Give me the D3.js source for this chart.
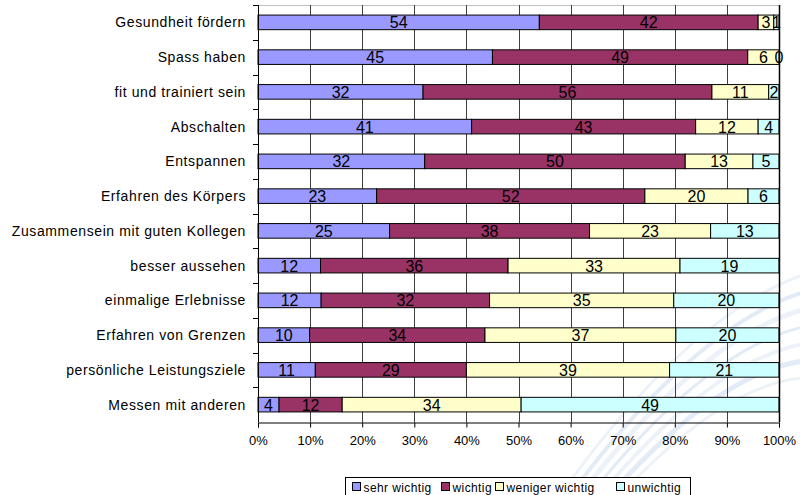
<!DOCTYPE html>
<html>
<head>
<meta charset="utf-8">
<script src="https://d3js.org/d3.v7.min.js"></script>
<style>
  body { margin:0; background:#fff; }
  svg { display:block; font-family:"Liberation Sans", Arial, sans-serif; }
</style>
</head>
<body>
<svg id="chart" width="800" height="495"></svg>
<script>
// categories from top to bottom
const categories = [
  "Gesundheit fördern", "Spass haben", "fit und trainiert sein", "Abschalten",
  "Entspannen", "Erfahren des Körpers", "Zusammensein mit guten Kollegen",
  "besser aussehen", "einmalige Erlebnisse", "Erfahren von Grenzen",
  "persönliche Leistungsziele", "Messen mit anderen"
];
const seriesNames = ["sehr wichtig", "wichtig", "weniger wichtig", "unwichtig"];
const sehrWichtig    = [54, 45, 32, 41, 32, 23, 25, 12, 12, 10, 11, 4];
const wichtig        = [42, 49, 56, 43, 50, 52, 38, 36, 32, 34, 29, 12];
const wenigerWichtig = [3, 6, 11, 12, 13, 20, 23, 33, 35, 37, 39, 34];
const unwichtig      = [1, 0, 2, 4, 5, 6, 13, 19, 20, 20, 21, 49];
const xTicks = [0, 0.1, 0.2, 0.3, 0.4, 0.5, 0.6, 0.7, 0.8, 0.9, 1];
const colors = ["#9999FF", "#993366", "#FFFFCC", "#CCFFFF"];

const svg = d3.select('#chart');
const margin = {left: 258, right: 21, top: 5, bottom: 73};
const W = 800, H = 495;

// faint decorative swoosh in the lower right
const deco = svg.append('g').attr('fill', 'none');
for (let i = 0; i < 7; i++) {
  deco.append('path')
    .attr('d', `M ${560 + i * 10} ${495} Q ${700 + i * 6} ${300 + i * 12} ${820} ${270 + i * 18}`)
    .attr('stroke', i % 2 ? '#e3ecf6' : '#ecf2f8')
    .attr('stroke-width', 3 + (i % 3));
}

const rows = categories.map((c, i) => {
  const vals = [sehrWichtig[i], wichtig[i], wenigerWichtig[i], unwichtig[i]];
  const total = d3.sum(vals);
  let acc = 0;
  return {cat: c, segs: vals.map((v, k) => {
    const s = {k, v, x0: acc / total, x1: (acc + v) / total};
    acc += v;
    return s;
  })};
});

const x = d3.scaleLinear().domain([0, 1]).range([margin.left, W - margin.right]);
const y = d3.scaleBand().domain(categories).range([margin.top, H - margin.bottom]).paddingInner(0.58).paddingOuter(0.29);
const yOuter = d3.scaleBand().domain(categories).range([margin.top, H - margin.bottom]);

// top border
svg.append('line').attr('x1', x(0)).attr('x2', x(1)).attr('y1', margin.top + 0.5).attr('y2', margin.top + 0.5)
  .attr('stroke', '#c0c0c0');

// vertical gridlines
svg.append('g').selectAll('line').data(xTicks.slice(1, -1)).join('line')
  .attr('x1', d => Math.round(x(d)) + 0.5).attr('x2', d => Math.round(x(d)) + 0.5)
  .attr('y1', margin.top).attr('y2', H - margin.bottom)
  .attr('stroke', '#404040').attr('stroke-width', 1);

// bars
const g = svg.append('g');
rows.forEach(r => {
  const row = g.append('g');
  row.selectAll('rect').data(r.segs).join('rect')
    .attr('x', d => x(d.x0)).attr('width', d => x(d.x1) - x(d.x0))
    .attr('y', y(r.cat)).attr('height', y.bandwidth())
    .attr('fill', d => colors[d.k]).attr('stroke', '#000').attr('stroke-width', 1);
  row.selectAll('text').data(r.segs).join('text')
    .attr('x', d => (x(d.x0) + x(d.x1)) / 2)
    .attr('y', y(r.cat) + y.bandwidth() / 2 + 6)
    .attr('text-anchor', 'middle').attr('font-size', 16).attr('fill', '#000')
    .text(d => d.v);
});

// right border
svg.append('line').attr('x1', x(1) + 0.5).attr('x2', x(1) + 0.5)
  .attr('y1', margin.top).attr('y2', H - margin.bottom).attr('stroke', '#000').attr('stroke-width', 1.5);

// y axis
const yAxis = svg.append('g').attr('transform', `translate(${x(0)},0)`);
yAxis.append('line').attr('x1', 0.5).attr('x2', 0.5).attr('y1', margin.top).attr('y2', H - margin.bottom).attr('stroke', '#000');
yAxis.selectAll('.tk').data(categories).join('line').attr('class', 'tk')
  .attr('x1', -5).attr('x2', 0)
  .attr('y1', d => Math.round(yOuter(d)) + 0.5).attr('y2', d => Math.round(yOuter(d)) + 0.5)
  .attr('stroke', '#000');
yAxis.selectAll('text').data(categories).join('text')
  .attr('x', -12).attr('y', d => yOuter(d) + yOuter.bandwidth() / 2 + 5)
  .attr('text-anchor', 'end').attr('font-size', 14).attr('letter-spacing', 0.6).attr('fill', '#000')
  .text(d => d);

// x axis
const xAxis = d3.axisBottom(x).tickValues(xTicks).tickFormat(d3.format('.0%')).tickSizeOuter(0).tickSize(5);
const xg = svg.append('g').attr('transform', `translate(0,${H - margin.bottom + 0.5})`).call(xAxis);
xg.select('.domain').attr('stroke', '#000');
xg.selectAll('text').attr('font-size', 13).attr('dy', '1.15em').attr('fill', '#000')
  .attr('font-family', '"Liberation Sans", Arial, sans-serif');

// legend
const lg = svg.append('g').attr('transform', 'translate(345.5,477.5)');
lg.append('rect').attr('width', 345).attr('height', 22).attr('fill', '#fff').attr('stroke', '#000');
const legendX = [7, 96, 150, 271];
seriesNames.forEach((s, i) => {
  lg.append('rect').attr('x', legendX[i]).attr('y', 5).attr('width', 8).attr('height', 8)
    .attr('fill', colors[i]).attr('stroke', '#000');
  lg.append('text').attr('x', legendX[i] + 11).attr('y', 14).attr('font-size', 12).attr('letter-spacing', 0.4)
    .attr('fill', '#000').text(s);
});
</script>
</body>
</html>
